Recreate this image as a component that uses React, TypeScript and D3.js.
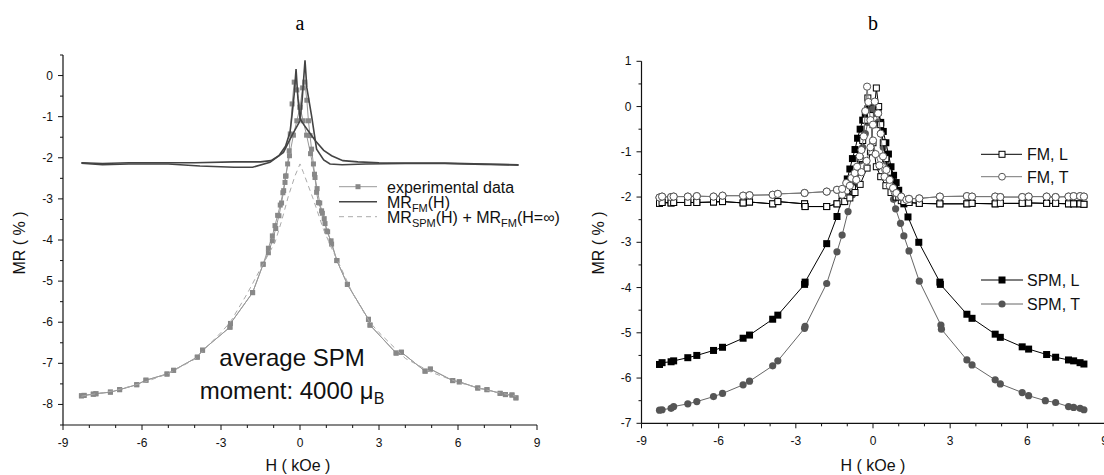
import React from 'react';
import * as d3 from 'd3';

type Pt = [number, number];

// ---------- panel a : experimental data (shared tails + two sweep branches near zero)
const expTailLeft: Pt[] = [
  [-8.3, -7.79], [-8.2, -7.78], [-7.85, -7.75], [-7.75, -7.74], [-7.2, -7.7], [-6.85, -7.64],
  [-6.2, -7.52], [-5.85, -7.41], [-5.05, -7.26], [-4.8, -7.17], [-3.9, -6.85], [-3.7, -6.68],
  [-2.66, -6.12], [-2.64, -6.03], [-1.8, -5.28], [-1.4, -4.59],
];
const expTailRight: Pt[] = [
  [1.4, -4.5], [1.8, -5.08], [2.6, -5.93], [2.66, -6.07], [3.65, -6.75], [3.85, -6.73],
  [4.75, -7.19], [4.95, -7.14], [5.8, -7.42], [6.05, -7.45], [6.75, -7.6], [7.1, -7.64],
  [7.6, -7.73], [7.8, -7.76], [8.05, -7.77], [8.2, -7.84],
];
const expCenterDown: Pt[] = [
  [-1.2, -4.31], [-1.05, -4.02], [-0.92, -3.72], [-0.8, -3.41], [-0.7, -3.1], [-0.62, -2.8],
  [-0.57, -2.6], [-0.53, -2.44], [-0.47, -2.15], [-0.41, -1.83], [-0.37, -1.42], [-0.3, -0.69],
  [-0.22, -0.16], [-0.12, -0.35], [0, -0.77], [0.12, -1.1], [0.25, -1.45], [0.4, -1.9],
  [0.55, -2.4], [0.65, -2.75], [0.75, -3.1], [0.85, -3.35], [0.95, -3.6], [1.05, -3.8], [1.2, -4.1],
];
const expCenterUp: Pt[] = [
  [-1.2, -4.2], [-1.05, -3.9], [-0.95, -3.65], [-0.85, -3.4], [-0.75, -3.15], [-0.65, -2.85],
  [-0.55, -2.45], [-0.4, -1.95], [-0.25, -1.45], [-0.12, -1.1], [0, -0.77], [0.1, -0.3],
  [0.18, -0.16], [0.26, -0.6], [0.32, -1.1], [0.38, -1.46], [0.44, -1.79], [0.51, -2.15],
  [0.57, -2.48], [0.63, -2.84], [0.7, -3.09], [0.82, -3.29], [0.92, -3.48], [1.01, -3.78], [1.18, -4.02],
];

// MR_FM(H), two sweeps
const fmDown: Pt[] = [
  [-8.3, -2.12], [-7.5, -2.14], [-6.5, -2.12], [-5.5, -2.12], [-4, -2.12], [-2.5, -2.1],
  [-1.5, -2.1], [-1.1, -2.07], [-0.8, -1.95], [-0.55, -1.72], [-0.38, -1.38], [-0.3, -0.95],
  [-0.22, -0.45], [-0.15, 0.16], [-0.08, -0.55], [0, -1.05], [0.15, -1.2], [0.35, -1.38],
  [0.6, -1.6], [0.9, -1.82], [1.2, -1.95], [1.63, -2.07], [2.2, -2.1], [3, -2.12], [4, -2.13],
  [5.5, -2.13], [7, -2.15], [8.3, -2.18],
];
const fmUp: Pt[] = [
  [-8.3, -2.13], [-7.5, -2.17], [-6.5, -2.15], [-5, -2.15], [-3.8, -2.2], [-2.5, -2.23],
  [-1.8, -2.23], [-1.14, -2.11], [-0.63, -1.87], [-0.3, -1.45], [0, -1.1], [0.08, -0.6],
  [0.19, 0.37], [0.26, -0.3], [0.44, -0.98], [0.63, -1.79], [0.9, -2.05], [1.14, -2.15],
  [1.6, -2.17], [2.5, -2.15], [4, -2.14], [5.5, -2.14], [7, -2.16], [8.3, -2.17],
];
// MR_SPM(H) + MR_FM(H=inf)
const spmPlusFm: Pt[] = [
  [-8.3, -7.8], [-7, -7.66], [-6, -7.48], [-5, -7.25], [-4, -6.9], [-3, -6.25], [-2.65, -6.0],
  [-2, -5.3], [-1.5, -4.7], [-1.2, -4.35], [-0.95, -4.06], [-0.7, -3.54], [-0.44, -2.93],
  [-0.19, -2.44], [0, -2.15], [0.13, -2.36], [0.5, -3.0], [0.89, -3.74], [1.2, -4.2],
  [1.5, -4.6], [2, -5.3], [2.65, -6.0], [3, -6.25], [4, -6.88], [5, -7.22], [6, -7.46],
  [7, -7.64], [8.2, -7.8],
];

// ---------- panel b
const fmLTailLeft: Pt[] = [
  [-8.3, -2.14], [-8.2, -2.12], [-7.85, -2.13], [-7.75, -2.12], [-7.2, -2.12], [-6.85, -2.12],
  [-6.2, -2.11], [-5.85, -2.1], [-5.05, -2.13], [-4.8, -2.11], [-3.9, -2.15], [-3.7, -2.1],
  [-2.66, -2.15], [-2.64, -2.21], [-1.8, -2.21], [-1.4, -2.15],
];
const fmLTailRight: Pt[] = [
  [1.4, -2.12], [1.8, -2.14], [2.6, -2.15], [3.65, -2.15], [3.85, -2.14], [4.75, -2.15],
  [4.95, -2.14], [5.8, -2.14], [6.05, -2.13], [6.75, -2.14], [7.1, -2.14], [7.6, -2.15],
  [7.8, -2.15], [8.05, -2.15], [8.2, -2.16],
];
const fmLCenterA: Pt[] = [
  [-1.2, -2.1], [-1.0, -2.0], [-0.8, -1.8], [-0.6, -1.45], [-0.5, -1.15], [-0.4, -0.75],
  [-0.3, -0.3], [-0.2, 0.19], [-0.1, -0.2], [0, -0.8], [0.13, -1.33], [0.3, -1.55],
  [0.5, -1.75], [0.7, -1.9], [0.9, -2.0], [1.1, -2.08],
];
const fmLCenterB: Pt[] = [
  [-1.1, -2.1], [-0.9, -2.02], [-0.7, -1.9], [-0.5, -1.72], [-0.23, -1.36], [-0.1, -1.0],
  [0, -0.4], [0.13, 0.41], [0.22, 0.0], [0.3, -0.4], [0.4, -0.8], [0.5, -1.15], [0.6, -1.45],
  [0.8, -1.8], [1.0, -2.0], [1.2, -2.1],
];

const fmTTailLeft: Pt[] = [
  [-8.3, -2.01], [-8.2, -1.99], [-7.85, -2.0], [-7.75, -1.99], [-7.2, -1.99], [-6.85, -1.98],
  [-6.2, -1.99], [-5.85, -1.97], [-5.05, -1.97], [-4.8, -1.96], [-3.9, -1.95], [-3.7, -1.93],
  [-2.66, -1.91], [-1.8, -1.88], [-1.4, -1.84],
];
const fmTTailRight: Pt[] = [
  [1.4, -2.04], [1.8, -2.03], [2.6, -1.99], [3.65, -1.98], [3.85, -1.99], [4.75, -1.99],
  [4.95, -2.0], [5.8, -2.0], [6.05, -1.99], [6.75, -1.99], [7.1, -2.0], [7.6, -1.99],
  [7.8, -1.98], [8.05, -1.98], [8.2, -1.99],
];
const fmTCenterA: Pt[] = [
  [-1.2, -1.95], [-1.04, -1.69], [-0.84, -1.58], [-0.71, -1.47], [-0.62, -1.33], [-0.52, -1.1],
  [-0.45, -0.96], [-0.36, -0.66], [-0.3, -0.1], [-0.23, 0.44], [-0.18, 0.1], [-0.1, -0.3],
  [0, -0.75], [0.1, -1.05], [0.25, -1.3], [0.45, -1.55], [0.65, -1.75], [0.85, -1.9], [1.1, -2.0],
];
const fmTCenterB: Pt[] = [
  [-1.2, -1.82], [-0.9, -1.75], [-0.65, -1.62], [-0.45, -1.45], [-0.25, -1.2], [-0.1, -0.9],
  [0, -0.4], [0.07, 0.11], [0.2, -0.15], [0.3, -0.6], [0.39, -1.1], [0.52, -1.4], [0.65, -1.62],
  [0.78, -1.8], [0.91, -1.91], [1.1, -1.99], [1.3, -2.06],
];

const spmL: Pt[] = [
  [-8.3, -5.7], [-8.2, -5.66], [-7.85, -5.64], [-7.75, -5.62], [-7.2, -5.55], [-6.85, -5.5],
  [-6.2, -5.39], [-5.85, -5.32], [-5.05, -5.12], [-4.8, -5.05], [-3.9, -4.7], [-3.7, -4.61],
  [-2.66, -3.93], [-2.64, -3.88], [-1.8, -3.03], [-1.4, -2.43], [-1.2, -2.02], [-1.0, -1.6],
  [-0.9, -1.38], [-0.8, -1.15], [-0.7, -0.95], [-0.6, -0.7], [-0.5, -0.5], [-0.4, -0.3],
  [-0.3, -0.15], [-0.2, -0.05], [-0.1, 0.02], [0, 0.05], [0.1, 0.0], [0.2, -0.12],
  [0.3, -0.35], [0.4, -0.55], [0.5, -0.8], [0.6, -1.05], [0.7, -1.33], [0.8, -1.52],
  [0.9, -1.68], [1.0, -1.85], [1.2, -2.15], [1.36, -2.44], [1.78, -3.0], [2.6, -3.88],
  [2.62, -3.93], [3.65, -4.59], [3.85, -4.68], [4.75, -5.03], [4.95, -5.1], [5.8, -5.31],
  [6.05, -5.36], [6.75, -5.48], [7.1, -5.54], [7.6, -5.6], [7.8, -5.62], [8.05, -5.66], [8.2, -5.69],
];
const spmT: Pt[] = [
  [-8.3, -6.71], [-8.2, -6.7], [-7.85, -6.67], [-7.75, -6.63], [-7.2, -6.57], [-6.85, -6.52],
  [-6.2, -6.41], [-5.85, -6.34], [-5.05, -6.15], [-4.8, -6.07], [-3.9, -5.73], [-3.7, -5.62],
  [-2.66, -4.9], [-2.64, -4.86], [-1.8, -3.91], [-1.4, -3.21], [-1.2, -2.84], [-0.97, -2.32],
  [-0.8, -1.95], [-0.7, -1.7], [-0.6, -1.45], [-0.5, -1.2], [-0.4, -0.9], [-0.3, -0.6],
  [-0.2, -0.35], [-0.1, -0.15], [0, -0.05], [0.1, -0.15], [0.2, -0.35], [0.3, -0.6],
  [0.4, -0.9], [0.5, -1.2], [0.6, -1.45], [0.7, -1.75], [0.8, -2.05], [0.88, -2.26],
  [1.07, -2.58], [1.2, -2.86], [1.4, -3.19], [1.8, -3.86], [2.64, -4.83], [2.66, -4.92],
  [3.65, -5.6], [3.85, -5.71], [4.75, -6.04], [4.95, -6.13], [5.8, -6.32], [6.05, -6.39],
  [6.7, -6.5], [7.1, -6.54], [7.6, -6.63], [7.8, -6.65], [8.05, -6.67], [8.2, -6.7],
];

const xMajor = [-9, -6, -3, 0, 3, 6, 9];
const yMajorA = [0, -1, -2, -3, -4, -5, -6, -7, -8];
const yMajorB = [1, 0, -1, -2, -3, -4, -5, -6, -7];

const FONT = "Arial, 'Liberation Sans', Helvetica, sans-serif";

const branch = (...parts: Pt[][]) => parts.flat().sort((p, q) => p[0] - q[0]);

type Scale = d3.ScaleLinear<number, number>;

function Axes({ x, y, yMajor, yDomain }: { x: Scale; y: Scale; yMajor: number[]; yDomain: [number, number] }) {
  const y0 = y(yDomain[0]);
  const x0 = x(-9);
  const xMinor = d3.range(-9, 9.01, 1).filter((v) => Math.abs(v % 3) > 0.01);
  const yMinor = d3.range(yDomain[0], yDomain[1] + 0.01, 0.5).filter((v) => Math.abs(v % 1) > 0.01);
  return (
    <g fontFamily={FONT} fill="#111">
      <line x1={x0} x2={x(9)} y1={y0} y2={y0} stroke="#111" strokeWidth={1.2} />
      <line x1={x0} x2={x0} y1={y0} y2={y(yDomain[1])} stroke="#111" strokeWidth={1.2} />
      {xMajor.map((v) => (
        <g key={'xM' + v}>
          <line x1={x(v)} x2={x(v)} y1={y0} y2={y0 + 5} stroke="#111" />
          <text x={x(v)} y={y0 + 22} fontSize={12} textAnchor="middle">{String(v)}</text>
        </g>
      ))}
      {xMinor.map((v) => (
        <line key={'xm' + v} x1={x(v)} x2={x(v)} y1={y0} y2={y0 + 3} stroke="#111" />
      ))}
      {yMajor.map((v) => (
        <g key={'yM' + v}>
          <line x1={x0 - 5} x2={x0} y1={y(v)} y2={y(v)} stroke="#111" />
          <text x={x0 - 10} y={y(v) + 4} fontSize={12} textAnchor="end">{String(v)}</text>
        </g>
      ))}
      {yMinor.map((v) => (
        <line key={'ym' + v} x1={x0 - 3} x2={x0} y1={y(v)} y2={y(v)} stroke="#111" />
      ))}
    </g>
  );
}

function Squares({ pts, x, y, size, fill, stroke }: { pts: Pt[]; x: Scale; y: Scale; size: number; fill: string; stroke?: string }) {
  return (
    <g>
      {pts.map((p, i) => (
        <rect key={i} x={x(p[0]) - size / 2} y={y(p[1]) - size / 2} width={size} height={size}
          fill={fill} stroke={stroke ?? 'none'} strokeWidth={1} />
      ))}
    </g>
  );
}

function Circles({ pts, x, y, r, fill, stroke }: { pts: Pt[]; x: Scale; y: Scale; r: number; fill: string; stroke?: string }) {
  return (
    <g>
      {pts.map((p, i) => (
        <circle key={i} cx={x(p[0])} cy={y(p[1])} r={r} fill={fill} stroke={stroke ?? 'none'} strokeWidth={1} />
      ))}
    </g>
  );
}

export default function App() {
  const xa = d3.scaleLinear().domain([-9, 9]).range([63, 537]);
  const ya = d3.scaleLinear().domain([-8.5, 0.5]).range([425, 55]);
  const xb = d3.scaleLinear().domain([-9, 9]).range([641.5, 1104.5]);
  const yb = d3.scaleLinear().domain([-7, 1]).range([423.3, 61.3]);

  const lineA = d3.line<Pt>().x((d) => xa(d[0])).y((d) => ya(d[1]));
  const lineB = d3.line<Pt>().x((d) => xb(d[0])).y((d) => yb(d[1]));

  const expDown = branch(expTailLeft, expCenterDown, expTailRight);
  const expUp = branch(expTailLeft, expCenterUp, expTailRight);
  const fmLA = branch(fmLTailLeft, fmLCenterA, fmLTailRight);
  const fmLB = branch(fmLTailLeft, fmLCenterB, fmLTailRight);
  const fmTA = branch(fmTTailLeft, fmTCenterA, fmTTailRight);
  const fmTB = branch(fmTTailLeft, fmTCenterB, fmTTailRight);

  return (
    <div style={{ position: 'absolute', left: 0, top: 0 }}>
      <svg width={1104} height={475} style={{ display: 'block', background: '#fff' }}>
        {/* titles */}
        <text x={300} y={30} fontFamily="'Liberation Serif', 'Times New Roman', serif" fontSize={20} textAnchor="middle">a</text>
        <text x={873} y={30} fontFamily="'Liberation Serif', 'Times New Roman', serif" fontSize={20} textAnchor="middle">b</text>

        {/* ---------- panel a ---------- */}
        <Axes x={xa} y={ya} yMajor={yMajorA} yDomain={[-8.5, 0.5]} />
        <g fill="none">
          <path d={lineA(expDown) ?? ''} stroke="#999" strokeWidth={1} />
          <path d={lineA(expUp) ?? ''} stroke="#999" strokeWidth={1} />
        </g>
        <Squares pts={expDown} x={xa} y={ya} size={5} fill="#888" />
        <Squares pts={expUp} x={xa} y={ya} size={5} fill="#888" />
        <path d={lineA(spmPlusFm) ?? ''} fill="none" stroke="#aaa" strokeWidth={1} strokeDasharray="5,4" />
        <g fill="none" stroke="#444" strokeWidth={1.6}>
          <path d={lineA(fmDown) ?? ''} />
          <path d={lineA(fmUp) ?? ''} />
        </g>

        <g fontFamily={FONT} fontSize={16} fill="#111">
          <line x1={339} x2={377} y1={186.7} y2={186.7} stroke="#999" />
          <rect x={355.5} y={184.2} width={5} height={5} fill="#888" />
          <text x={387} y={192.5}>experimental data</text>
          <line x1={339} x2={377} y1={201.7} y2={201.7} stroke="#444" strokeWidth={1.6} />
          <text x={387} y={207.5}>MR<tspan fontSize={11} dy={4}>FM</tspan><tspan dy={-4}>(H)</tspan></text>
          <line x1={339} x2={377} y1={216.7} y2={216.7} stroke="#aaa" strokeDasharray="5,4" />
          <text x={387} y={222.5}>MR<tspan fontSize={11} dy={4}>SPM</tspan><tspan dy={-4}>(H) + MR</tspan><tspan fontSize={11} dy={4}>FM</tspan><tspan dy={-4}>(H=∞)</tspan></text>
        </g>

        <g fontFamily={FONT} fontSize={24} fill="#111" textAnchor="middle">
          <text x={292} y={366}>average SPM</text>
          <text x={292} y={399}>moment: 4000 μ<tspan fontSize={16} dy={5}>B</tspan></text>
        </g>

        <g fontFamily={FONT} fontSize={16} fill="#111" textAnchor="middle" style={{ whiteSpace: 'pre' }}>
          <text x={298} y={471}>H  ( kOe )</text>
          <text transform="translate(25,243) rotate(-90)">MR  ( % )</text>
        </g>

        {/* ---------- panel b ---------- */}
        <Axes x={xb} y={yb} yMajor={yMajorB} yDomain={[-7, 1]} />
        <path d={lineB(spmL) ?? ''} fill="none" stroke="#000" strokeWidth={1} />
        <Squares pts={spmL} x={xb} y={yb} size={7} fill="#000" />
        <path d={lineB(spmT) ?? ''} fill="none" stroke="#666" strokeWidth={1} />
        <Circles pts={spmT} x={xb} y={yb} r={3.6} fill="#555" />

        <g fill="none">
          <path d={lineB(fmLA) ?? ''} stroke="#000" strokeWidth={1} />
          <path d={lineB(fmLB) ?? ''} stroke="#000" strokeWidth={1} />
        </g>
        <Squares pts={fmLA} x={xb} y={yb} size={6} fill="#fff" stroke="#000" />
        <Squares pts={fmLB} x={xb} y={yb} size={6} fill="#fff" stroke="#000" />
        <g fill="none">
          <path d={lineB(fmTA) ?? ''} stroke="#777" strokeWidth={1} />
          <path d={lineB(fmTB) ?? ''} stroke="#777" strokeWidth={1} />
        </g>
        <Circles pts={fmTA} x={xb} y={yb} r={3.6} fill="#fff" stroke="#555" />
        <Circles pts={fmTB} x={xb} y={yb} r={3.6} fill="#fff" stroke="#555" />

        <g fontFamily={FONT} fontSize={16} fill="#111">
          <line x1={981} x2={1022} y1={154.3} y2={154.3} stroke="#000" />
          <rect x={999} y={151.3} width={6} height={6} fill="#fff" stroke="#000" />
          <text x={1027} y={160}>FM, L</text>
          <line x1={981} x2={1022} y1={176.7} y2={176.7} stroke="#777" />
          <circle cx={1002} cy={176.7} r={3.4} fill="#fff" stroke="#555" />
          <text x={1027} y={182.5}>FM, T</text>
          <line x1={981} x2={1023} y1={280} y2={280} stroke="#000" />
          <rect x={998.5} y={276.5} width={7} height={7} fill="#000" />
          <text x={1027} y={286}>SPM, L</text>
          <line x1={981} x2={1023} y1={304} y2={304} stroke="#666" />
          <circle cx={1002} cy={304} r={3.6} fill="#555" />
          <text x={1027} y={310}>SPM, T</text>
        </g>

        <g fontFamily={FONT} fontSize={16} fill="#111" textAnchor="middle" style={{ whiteSpace: 'pre' }}>
          <text x={873} y={471}>H  ( kOe )</text>
          <text transform="translate(604,243) rotate(-90)">MR  ( % )</text>
        </g>
      </svg>
    </div>
  );
}
